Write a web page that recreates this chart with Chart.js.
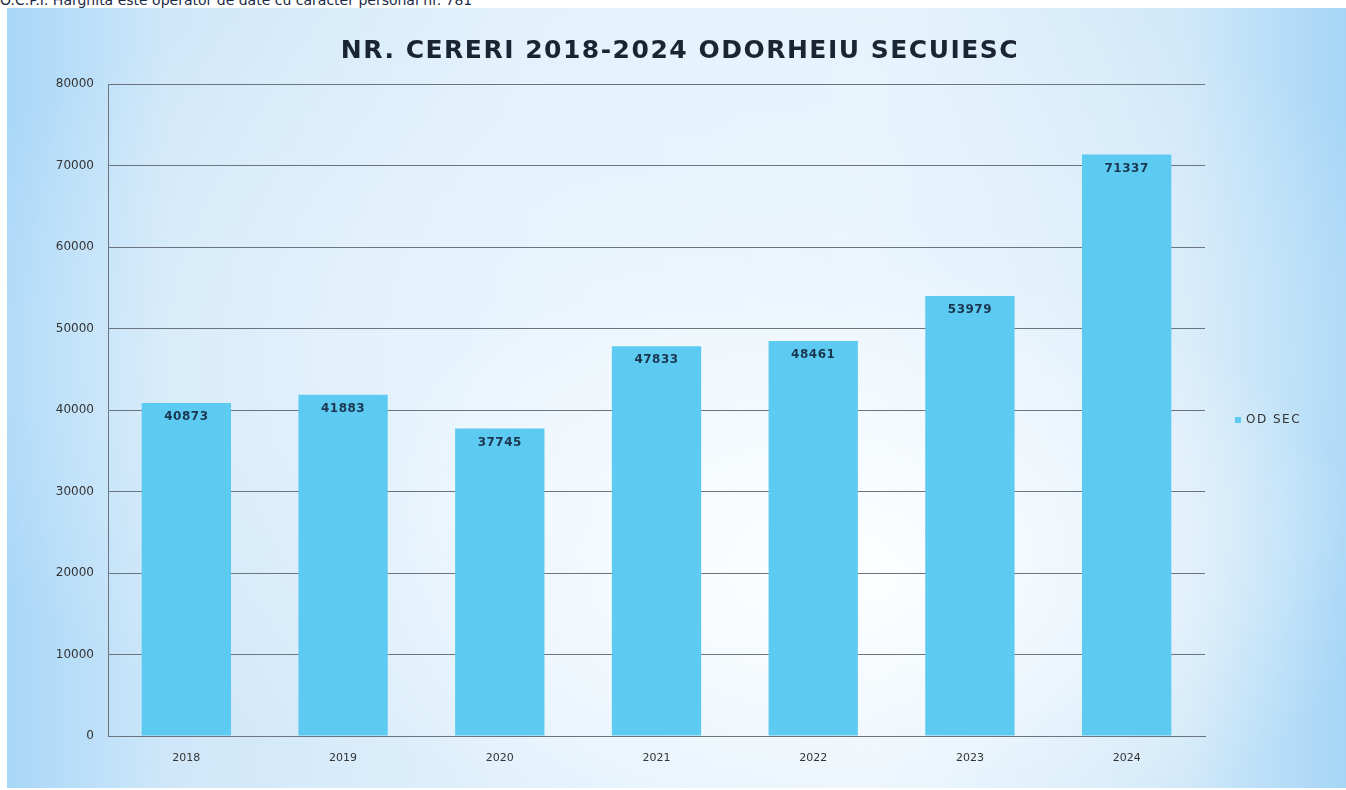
<!DOCTYPE html>
<html>
<head>
<meta charset="utf-8">
<script src="https://cdn.jsdelivr.net/npm/chart.js@4/dist/chart.umd.min.js"></script>
<style>
  html, body { margin: 0; padding: 0; background: #fff; width: 1346px; height: 790px; overflow: hidden; }
  #hdr { position: absolute; left: 0; top: -8px; font: 14px "DejaVu Sans", sans-serif; color: #1c2a48; white-space: nowrap; }
  #panel {
    position: absolute; left: 7px; top: 8px; width: 1339px; height: 780px;
    background:
      radial-gradient(ellipse 40% 40% at 62% 72%, rgba(255,255,255,0.95) 0%, rgba(255,255,255,0) 100%),
      radial-gradient(ellipse 60% 55% at 50% 45%, rgba(236,246,253,0.9) 0%, rgba(236,246,253,0) 100%),
      linear-gradient(90deg, #a8d7f7 0%, #cfe7f9 12%, #e2f1fc 40%, #e6f3fc 65%, #d0e8f9 88%, #a6d6f6 100%);
  }
  canvas { position: absolute; left: 0; top: 0; }
</style>
</head>
<body>
<div id="hdr">O.C.P.I. Harghita este operator de date cu caracter personal nr. 781</div>
<div id="panel"><canvas id="c" width="1339" height="780"></canvas></div>
<script>
// Data
const years = ['2018', '2019', '2020', '2021', '2022', '2023', '2024'];
const cereri = [40873, 41883, 37745, 47833, 48461, 53979, 71337];
const seriesName = 'OD SEC';
const chartTitle = 'NR. CERERI 2018-2024 ODORHEIU SECUIESC';

const barColor = '#5dcbf1';

// title drawn a bit right of the plot centre, like the source
const titlePlugin = {
  id: 'titlePlugin',
  afterDraw(chart) {
    const ctx = chart.ctx;
    ctx.save();
    ctx.font = 'bold 25px "DejaVu Sans", sans-serif';
    ctx.letterSpacing = '1.5px';
    ctx.fillStyle = '#1a2433';
    ctx.textAlign = 'center';
    ctx.textBaseline = 'middle';
    ctx.fillText(chartTitle, 673, 43);
    ctx.restore();
  }
};

// value labels inside top of bars
const valueLabels = {
  id: 'valueLabels',
  afterDatasetsDraw(chart) {
    const ctx = chart.ctx;
    const meta = chart.getDatasetMeta(0);
    ctx.save();
    ctx.font = 'bold 12px "DejaVu Sans", sans-serif';
    ctx.letterSpacing = '0.5px';
    ctx.fillStyle = '#1b3650';
    ctx.textAlign = 'center';
    ctx.textBaseline = 'middle';
    meta.data.forEach((bar, i) => {
      ctx.fillText(String(cereri[i]), bar.x, bar.y + 14);
    });
    ctx.restore();
  }
};

// legend on the right side
const sideLegend = {
  id: 'sideLegend',
  afterDraw(chart) {
    const ctx = chart.ctx;
    const area = chart.chartArea;
    const y = (area.top + area.bottom) / 2 + 10;
    const x = area.right + 30;
    ctx.save();
    ctx.fillStyle = barColor;
    ctx.fillRect(x, y - 3, 6, 6);
    ctx.font = '12px "DejaVu Sans", sans-serif';
    ctx.letterSpacing = '1.5px';
    ctx.fillStyle = '#333';
    ctx.textBaseline = 'middle';
    ctx.fillText(seriesName, x + 11, y);
    ctx.restore();
  }
};

new Chart(document.getElementById('c'), {
  type: 'bar',
  data: {
    labels: years,
    datasets: [{
      label: seriesName,
      data: cereri,
      backgroundColor: barColor,
      barPercentage: 0.57,
      categoryPercentage: 1
    }]
  },
  options: {
    responsive: false,
    animation: false,
    layout: { padding: { left: 0, right: 141, top: 76, bottom: 0 } },
    plugins: {
      legend: { display: false },
      tooltip: { enabled: false },
      title: { display: false }
    },
    scales: {
      x: {
        grid: { display: false, drawTicks: false },
        border: { color: '#6b7580', width: 1 },
        ticks: { color: '#333', font: { family: '"DejaVu Sans", sans-serif', size: 11 }, padding: 16 },
        afterFit(scale) { scale.height = 52; }
      },
      y: {
        min: 0, max: 80000,
        grid: { color: '#6b7580', lineWidth: 1, drawTicks: false },
        border: { color: '#6b7580', width: 1 },
        ticks: {
          stepSize: 10000, color: '#333', padding: 14,
          font: { family: '"DejaVu Sans", sans-serif', size: 12 },
          callback: v => String(v)
        },
        afterFit(scale) { scale.width = 101; }
      }
    }
  },
  plugins: [titlePlugin, valueLabels, sideLegend]
});
</script>
</body>
</html>
